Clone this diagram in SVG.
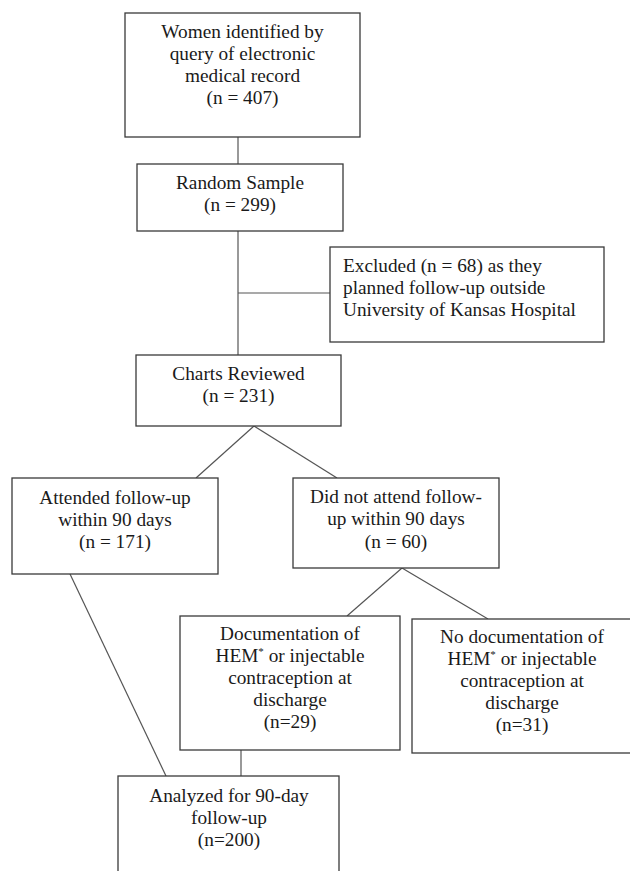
<svg xmlns="http://www.w3.org/2000/svg" width="630" height="871" viewBox="0 0 630 871">
<style>
.box{fill:#fff;stroke:#3a3a3a;stroke-width:1.3}
.t{font-family:"Liberation Serif","Times New Roman",serif;font-size:19.3px;fill:#1a1a1a;text-anchor:middle}
.tl{text-anchor:start}
.sup{font-size:11px}
#connectors line{stroke:#555;stroke-width:1.2}
</style>
<rect width="630" height="871" fill="#fff"/>
<g id="connectors">
<line x1="238" y1="137" x2="238" y2="164"/>
<line x1="238" y1="231" x2="238" y2="355"/>
<line x1="238" y1="293" x2="330" y2="293"/>
<line x1="254" y1="426" x2="196" y2="478"/>
<line x1="254" y1="426" x2="337" y2="478"/>
<line x1="70" y1="574" x2="166" y2="776"/>
<line x1="402" y1="568" x2="347" y2="616"/>
<line x1="402" y1="568" x2="488" y2="619"/>
<line x1="241" y1="750" x2="241" y2="776"/>
</g>
<g id="identified">
<rect class="box" x="125" y="13" width="235" height="124"/>
<text class="t" x="242.5" y="38">Women identified by</text>
<text class="t" x="242.5" y="60">query of electronic</text>
<text class="t" x="242.5" y="82">medical record</text>
<text class="t" x="242.5" y="104">(n = 407)</text>
</g>
<g id="random">
<rect class="box" x="137" y="164" width="206" height="67"/>
<text class="t" x="240" y="189">Random Sample</text>
<text class="t" x="240" y="211">(n = 299)</text>
</g>
<g id="excluded">
<rect class="box" x="330" y="247" width="274" height="95"/>
<text class="t tl" x="343" y="272">Excluded (n = 68) as they</text>
<text class="t tl" x="343" y="294">planned follow-up outside</text>
<text class="t tl" x="343" y="316">University of Kansas Hospital</text>
</g>
<g id="charts">
<rect class="box" x="136" y="355" width="205" height="71"/>
<text class="t" x="238.5" y="380">Charts Reviewed</text>
<text class="t" x="238.5" y="402">(n = 231)</text>
</g>
<g id="attended">
<rect class="box" x="12" y="478" width="206" height="96"/>
<text class="t" x="115" y="504">Attended follow-up</text>
<text class="t" x="115" y="526">within 90 days</text>
<text class="t" x="115" y="548">(n = 171)</text>
</g>
<g id="notattend">
<rect class="box" x="293" y="478" width="206" height="90"/>
<text class="t" x="396" y="503">Did not attend follow-</text>
<text class="t" x="396" y="525">up within 90 days</text>
<text class="t" x="396" y="548">(n = 60)</text>
</g>
<g id="documented">
<rect class="box" x="180" y="616" width="220" height="134"/>
<text class="t" x="290" y="640">Documentation of</text>
<text class="t" x="290" y="662">HEM<tspan class="sup" dy="-7">*</tspan><tspan dy="7"> or injectable</tspan></text>
<text class="t" x="290" y="684">contraception at</text>
<text class="t" x="290" y="706">discharge</text>
<text class="t" x="290" y="728">(n=29)</text>
</g>
<g id="notdocumented">
<rect class="box" x="412" y="619" width="220" height="134"/>
<text class="t" x="522" y="643">No documentation of</text>
<text class="t" x="522" y="665">HEM<tspan class="sup" dy="-7">*</tspan><tspan dy="7"> or injectable</tspan></text>
<text class="t" x="522" y="687">contraception at</text>
<text class="t" x="522" y="709">discharge</text>
<text class="t" x="522" y="731">(n=31)</text>
</g>
<g id="analyzed">
<rect class="box" x="118" y="776" width="221" height="110"/>
<text class="t" x="229" y="802">Analyzed for 90-day</text>
<text class="t" x="229" y="824">follow-up</text>
<text class="t" x="229" y="846">(n=200)</text>
</g>
</svg>
